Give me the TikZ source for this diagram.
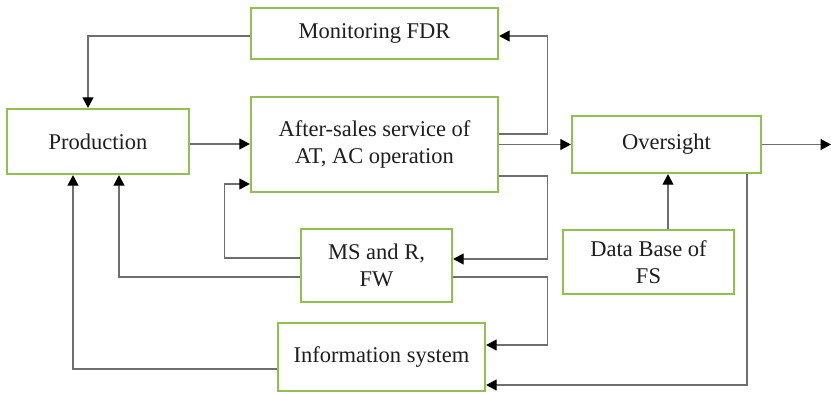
\documentclass[tikz,border=0pt]{standalone}
\usepackage{fontspec}
\setmainfont{Liberation Serif}
\usetikzlibrary{arrows.meta,calc}
\definecolor{boxgreen}{RGB}{146,192,80}
\definecolor{linegray}{RGB}{110,110,110}
\definecolor{txt}{RGB}{30,30,30}
\begin{document}
\begin{tikzpicture}[x=1pt,y=-1pt,
  blk/.style={draw=boxgreen,line width=2.3pt,fill=white,inner sep=0pt,align=center,text=txt,
    font=\fontsize{22.5}{27}\selectfont},
  arr/.style={draw=linegray,line width=1.2pt,-{Triangle[length=10.5pt,width=11pt,color=black]}}]
\useasboundingbox (0,0) rectangle (831,394);
\node[blk,minimum width=182pt,minimum height=65pt] (prod) at (98,141.5) {Production};
\node[blk,minimum width=247pt,minimum height=51pt] (mon) at (374.5,33.5) {Monitoring FDR};
\node[blk,minimum width=247pt,minimum height=95pt] (as) at (374.5,144.5) {After-sales service of\\AT, AC operation};
\node[blk,minimum width=189pt,minimum height=57pt] (ov) at (666.5,144.5) {Oversight};
\node[blk,minimum width=151pt,minimum height=73pt] (ms) at (376.5,265.5) {MS and R,\\FW};
\node[blk,minimum width=207pt,minimum height=68pt] (info) at (381.5,357) {Information system};
\node[blk,minimum width=171pt,minimum height=64pt] (db) at (648.5,262) {Data Base of\\FS};
\coordinate (out) at (831,144.5);
% connectors
\draw[arr] ($(mon.west)+(0,2.5)$) -| ($(prod.north)+(-10,0)$);
\draw[arr] ($(prod.east)+(0,2.5)$) -- ($(as.west)+(0,-0.5)$);
\draw[arr] ($(as.east)+(0,-10.5)$) -- ++(48,0) |- ($(mon.east)+(0,2.5)$);
\draw[arr] (as.east) -- (ov.west);
\draw[arr] (ov.east) -- (out);
\draw[arr] ($(as.east)+(0,31.5)$) -- ++(48,0) |- ($(ms.east)+(0,-6.5)$);
\draw[arr] ($(ms.east)+(0,11.5)$) -- ++(94,0) |- ($(info.east)+(0,-12)$);
\draw[arr] ($(ov.south)+(80.5,0)$) |- ($(info.east)+(0,28)$);
\draw[arr] ($(db.north)+(19.5,0)$) -- ($(ov.south)+(1.5,0)$);
\draw[arr] ($(ms.west)+(0,-7.5)$) -- ++(-75,0) |- ($(as.west)+(0,39.5)$);
\draw[arr] ($(ms.west)+(0,11.5)$) -| ($(prod.south)+(21,0)$);
\draw[arr] ($(info.west)+(0,12)$) -| ($(prod.south)+(-25,0)$);
\end{tikzpicture}
\end{document}
